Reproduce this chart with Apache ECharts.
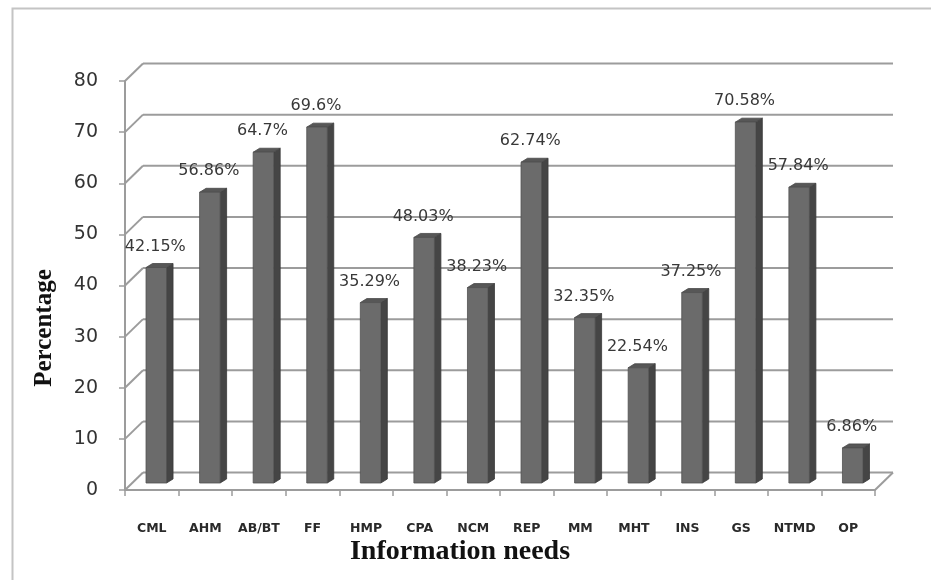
<!DOCTYPE html>
<html>
<head>
<meta charset="utf-8">
<title>Information needs</title>
<script src="https://cdn.jsdelivr.net/npm/echarts@6/dist/echarts.min.js"></script>
<style>
  html, body { margin: 0; padding: 0; background: #ffffff; }
  #chart { width: 931px; height: 580px; }
</style>
</head>
<body>
<div id="chart"></div>
<script>
// Information needs (share of respondents, %)
const categories = ['CML', 'AHM', 'AB/BT', 'FF', 'HMP', 'CPA', 'NCM', 'REP', 'MM', 'MHT', 'INS', 'GS', 'NTMD', 'OP'];
const percentages = [42.15, 56.86, 64.7, 69.6, 35.29, 48.03, 38.23, 62.74, 32.35, 22.54, 37.25, 70.58, 57.84, 6.86];
const axisMin = 0;
const axisMax = 80;
const axisStep = 10;
const gridValues = [0, 10, 20, 30, 40, 50, 60, 70, 80];

// pseudo-3D geometry (pixels)
const WALL_DX = 18, WALL_DY = -17.5;   // depth of the back wall
const FACE_DX = 4.5, FACE_DY = -7;     // bar front face inside the depth
const BAR_DX = 6.5, BAR_DY = -4;       // bar's own thickness
const BAR_RATIO = 0.383;

const GRID_COLOR = '#9c9c9c';

const chart = echarts.init(document.getElementById('chart'), null, { renderer: 'canvas' });

function renderWall(params, api) {
  const v = api.value(1);
  const p = api.coord([0, v]);
  const band = api.size([1, 0])[0];
  const xl = p[0] - band / 2;
  const xr = api.coord([categories.length - 1, v])[0] + band / 2;
  const y = p[1];
  const style = { stroke: GRID_COLOR, lineWidth: 2, fill: null };
  const children = [
    { type: 'line', shape: { x1: xl + WALL_DX, y1: y + WALL_DY, x2: xr + WALL_DX, y2: y + WALL_DY }, style: style },
    { type: 'line', shape: { x1: xl, y1: y, x2: xl + WALL_DX, y2: y + WALL_DY }, style: style }
  ];
  if (v === axisMin) {
    children.push({ type: 'line', shape: { x1: xr, y1: y, x2: xr + WALL_DX, y2: y + WALL_DY }, style: style });
  }
  return { type: 'group', children: children };
}

function renderBar(params, api) {
  const idx = api.value(0);
  const v = api.value(1);
  const base = api.coord([idx, 0]);
  const top = api.coord([idx, v]);
  const band = api.size([1, 0])[0];
  const fw = band * BAR_RATIO;
  const cx = base[0] + FACE_DX;
  const x0 = cx - fw / 2, x1 = cx + fw / 2;
  const yb = base[1] + FACE_DY;
  const yt = top[1] + FACE_DY;
  return {
    type: 'group',
    children: [
      { type: 'polygon', shape: { points: [[x1, yt], [x1 + BAR_DX, yt + BAR_DY], [x1 + BAR_DX, yb + BAR_DY], [x1, yb]] },
        style: { fill: '#454545', stroke: '#3a3a3a', lineWidth: 0.8 } },
      { type: 'polygon', shape: { points: [[x0, yt], [x1, yt], [x1 + BAR_DX, yt + BAR_DY], [x0 + BAR_DX, yt + BAR_DY]] },
        style: { fill: '#575757', stroke: '#474747', lineWidth: 0.8 } },
      { type: 'rect', shape: { x: x0, y: yt, width: fw, height: yb - yt },
        style: { fill: '#6b6b6b', stroke: '#505050', lineWidth: 0.8 } },
      { type: 'text', x: cx - 1, y: yt - 21,
        style: { text: v + '%', fill: '#383838', font: '16px "DejaVu Sans", sans-serif', align: 'center', verticalAlign: 'middle' } }
    ]
  };
}

chart.setOption({
  animation: false,
  backgroundColor: '#ffffff',
  grid: { left: 125, right: 56, top: 81, bottom: 90, containLabel: false },
  xAxis: {
    type: 'category',
    data: categories,
    boundaryGap: true,
    axisLine: { show: true, lineStyle: { color: GRID_COLOR, width: 2 } },
    axisTick: { show: true, interval: 0, alignWithLabel: false, length: 6, lineStyle: { color: GRID_COLOR, width: 1.5 } },
    axisLabel: { interval: 0, hideOverlap: false, margin: 32, color: '#2a2a2a', fontFamily: '"DejaVu Sans", sans-serif', fontWeight: 'bold', fontSize: 12.5 },
    splitLine: { show: false }
  },
  yAxis: {
    type: 'value',
    min: axisMin,
    max: axisMax,
    interval: axisStep,
    axisLine: { show: true, lineStyle: { color: GRID_COLOR, width: 2 } },
    axisTick: { show: true, length: 6, lineStyle: { color: GRID_COLOR, width: 1.5 } },
    axisLabel: { margin: 27, color: '#333333', fontFamily: '"DejaVu Sans", sans-serif', fontSize: 19 },
    splitLine: { show: false }
  },
  graphic: [
    { type: 'rect', left: 10, top: 6, shape: { width: 1000, height: 1000 }, style: { fill: null, stroke: '#c4c4c4', lineWidth: 2 }, silent: true, z: -10 },
    { type: 'text', x: 45, y: 328, rotation: Math.PI / 2,
      style: { text: 'Percentage', font: 'bold 25px "Liberation Serif", serif', fill: '#111111', align: 'center', verticalAlign: 'middle' } },
    { type: 'text', x: 460, y: 552,
      style: { text: 'Information needs', font: 'bold 28px "Liberation Serif", serif', fill: '#111111', align: 'center', verticalAlign: 'middle' } }
  ],
  series: [
    {
      type: 'custom',
      name: 'walls',
      renderItem: renderWall,
      data: gridValues.map(function (g) { return [0, g]; }),
      silent: true,
      z: 1
    },
    {
      type: 'custom',
      name: 'needs',
      renderItem: renderBar,
      data: percentages.map(function (p, i) { return [i, p]; }),
      z: 3
    }
  ]
});
</script>
</body>
</html>
